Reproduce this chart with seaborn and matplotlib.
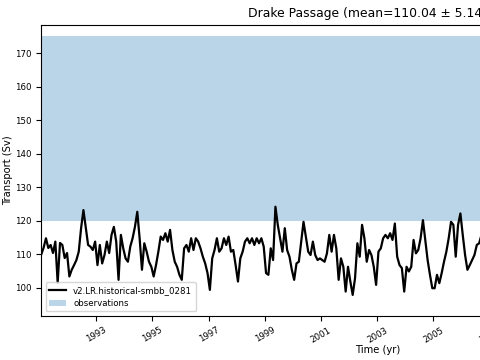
import numpy as np
import pandas as pd
import matplotlib
matplotlib.use("Agg")
import matplotlib.pyplot as plt
import seaborn as sns

transport = [
    110.0, 112.0, 114.8, 111.9, 112.8, 110.4, 113.8, 101.5, 113.4, 112.8,
    108.9, 110.4, 103.4, 105.4, 106.8, 108.3, 110.8, 117.8, 123.2, 117.9,
    112.8, 112.3, 111.3, 113.8, 106.8, 112.8, 107.3, 109.8, 113.8, 110.4,
    115.8,
    118.2, 113.8, 102.4, 115.8, 111.8, 108.8, 107.8, 112.3, 114.8, 118.2,
    122.7, 114.8, 105.4, 113.3, 110.8, 107.8, 106.3, 103.4, 106.8, 110.8,
    115.3, 114.3, 116.3, 113.8, 117.3, 111.3, 107.8, 106.3, 103.9, 102.4,
    111.8, 112.8,
    110.8, 114.8, 111.3, 114.8, 113.8, 111.8, 109.3, 107.3, 104.4, 99.4,
    108.8, 111.3, 114.8, 110.8, 111.8, 114.8, 112.8, 115.3, 110.8, 111.3,
    106.8, 101.9, 108.8, 110.8, 113.8, 114.8, 113.3, 114.8, 112.8, 114.8,
    113.3,
    114.8, 112.3, 104.4, 103.9, 111.8, 108.3, 124.2, 118.8, 114.8, 110.8,
    117.8, 111.3, 109.3, 105.4, 102.4, 107.3, 107.8, 113.8, 119.7, 115.3,
    110.8, 109.8, 113.8, 109.8, 108.3, 108.8, 108.3, 107.8, 110.3, 115.8,
    110.8,
    115.8, 111.8, 102.4, 108.8, 106.3, 98.9, 106.3, 101.9, 97.9, 102.9,
    113.3, 109.3, 118.8, 114.8, 107.8, 111.3, 109.8, 106.3, 100.9, 110.8,
    111.8, 114.8, 115.8, 114.8, 116.3, 114.3, 119.2, 109.3, 106.8, 105.9,
    98.9,
    106.3, 104.9, 106.3, 114.3, 110.3, 111.3, 114.8, 120.2, 114.3, 108.3,
    103.9, 99.9, 99.9, 103.9, 101.4, 104.4, 107.8, 110.8, 114.8, 119.7,
    118.8, 109.3, 118.8, 122.2, 115.8, 109.8, 105.4, 106.8, 108.3, 109.8,
    112.8, 113.3, 115.8, 113.0,
]
start_year = 1991
obs_range = (120, 175)
run_name = "v2.LR.historical-smbb_0281"
title = "Drake Passage (mean=110.04 \u00b1 5.14 Sv)"
year_ticks = list(range(1993, 2015, 2))

df = pd.DataFrame({"transport": transport})
df["time"] = start_year + (np.arange(len(df)) + 0.5) / 12

fig = plt.figure(figsize=(4.8, 3.6), dpi=100)
# the original axes is wider than the saved picture, it runs off the right edge
ax = fig.add_axes([0.086, 0.123, 1.40, 0.8076])

sns.lineplot(data=df, x="time", y="transport", color="k", lw=1.6,
             label=run_name, ax=ax)
ax.axhspan(obs_range[0], obs_range[1], color="C0", alpha=0.3, lw=0,
           label="observations")

ax.set_xlim(start_year + 0.5 / 12, 2015 - 0.5 / 12)
ax.set_ylim(91.7, 178.4)
ax.set_xticks(year_ticks)
ax.set_xticklabels([str(y) for y in year_ticks], rotation=30)
ax.tick_params(labelsize=6.2)
ax.set_xlabel("Time (yr)", fontsize=7.2, labelpad=0.5)
ax.set_ylabel("Transport (Sv)", fontsize=7.2, labelpad=1.5)
ax.set_title(title, fontsize=8.9)
ax.legend(loc="lower left", fontsize=6.2)

fig.savefig("out.png", dpi=100)
